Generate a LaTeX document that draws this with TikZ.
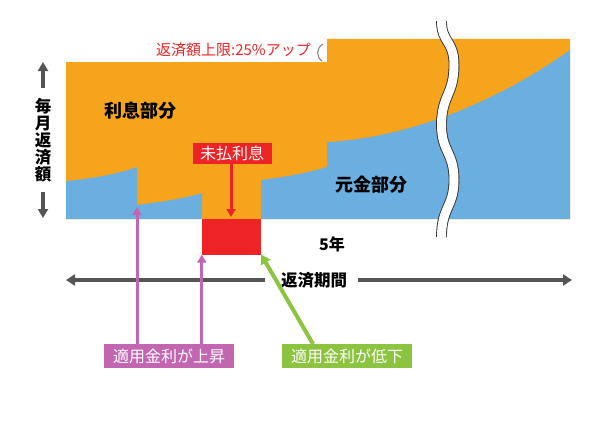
\documentclass[tikz,border=0pt]{standalone}
\usepackage{fontspec}
\newfontfamily\jp{Noto Sans CJK JP}
\usetikzlibrary{arrows.meta}
\definecolor{orng}{HTML}{F7A41D}
\definecolor{blu}{HTML}{6AAFE0}
\definecolor{redc}{HTML}{EE2326}
\definecolor{pnk}{HTML}{C266B2}
\definecolor{grn}{HTML}{8CC43F}
\definecolor{dgray}{HTML}{555555}
\tikzset{
  fs/.style={font=\jp\fontsize{#1}{#1}\selectfont},
  blab/.style={text=black, font=\jp\bfseries\fontsize{#1}{#1}\selectfont, inner sep=0pt},
  tagbox/.style={fill=#1, text=white, font=\jp\fontsize{16}{16}\selectfont, inner sep=0pt, minimum width=130pt, minimum height=24pt},
  garrow/.style={draw=dgray, line width=4pt, -{Triangle[width=11pt,length=9pt]}},
  parrow/.style={draw=pnk, line width=3pt, -{Triangle[width=9pt,length=8pt]}},
}
\begin{document}
\begin{tikzpicture}[x=1pt,y=-1pt]
\useasboundingbox (0,0) rectangle (604,420);
% orange area
\fill[orng] (66,62) -- (327,62) -- (327,39) -- (570,39) -- (570,219) -- (66,219) -- cycle;
% blue areas
\fill[blu] (66,219) -- (66,181) .. controls (95,178) and (118,174) .. (137,167) -- (137,219) -- cycle;
\fill[blu] (137,219) -- (137,205) .. controls (160,202) and (182,199) .. (202,193) -- (202,219) -- cycle;
\fill[blu] (261,219) -- (261,180) .. controls (285,177) and (307,173) .. (327,167) -- (327,219) -- cycle;
\fill[blu] (327,219) -- (327,142) .. controls (410,138) and (500,100) .. (570,50) -- (570,219) -- cycle;
% break wave
\draw[black!80, line width=0.9pt, double=white, double distance=9pt]
  (441.5,21) .. controls (441.5,43) and (454,40) .. (454,65)
  .. controls (454,95) and (441.5,95) .. (441.5,125)
  .. controls (441.5,152) and (454,152) .. (454,180)
  .. controls (454,207) and (441.5,207) .. (441.5,237);
% small paren mark
\draw[gray, line width=1pt] (323,44) .. controls (316,48) and (316,57) .. (322,61);
% texts
\node[blab=18] (interest) at (140,111) {利息部分};
\node[blab=18] (principal) at (371,185) {元金部分};
\node[text=redc, fs=15, inner sep=0pt, anchor=east] (cap) at (311,50) {返済額上限:25\%アップ};
% unpaid interest
\node[fill=redc, text=white, font=\jp\fontsize{16}{16}\selectfont, inner sep=0pt, minimum width=79pt, minimum height=21pt] (unpaid) at (232,153) {未払利息};
\node[fill=redc, inner sep=0pt, minimum width=59pt, minimum height=36pt] (rb) at (231.5,236.5) {};
\coordinate (rbtop) at (231,217);
\draw[redc, line width=3pt, -{Triangle[width=9pt,length=8pt]}] (unpaid.south -| rbtop) -- (rbtop);
% five years
\node[blab=16] (five) at (332,244) {5年};
% vertical axis
\node[blab=16.5, align=center, font=\jp\bfseries\fontsize{16.5}{17}\selectfont] (vlab) at (43,140) {毎\\月\\返\\済\\額};
\coordinate (vtop) at (43,62);
\coordinate (vbot) at (43,218);
\draw[draw=dgray, line width=3.5pt, -{Triangle[width=10pt,length=9pt]}] (43,88) -- (vtop);
\draw[draw=dgray, line width=3.5pt, -{Triangle[width=10pt,length=9pt]}] (43,192) -- (vbot);
% horizontal period arrow
\node[blab=16.5] (period) at (314,280) {返済期間};
\coordinate (hl) at (66,280);
\coordinate (hr) at (572,280);
\draw[garrow] (265,280) -- (hl);
\draw[garrow] (358,280) -- (hr);
% labels
\node[tagbox=pnk] (up) at (169,356) {適用金利が上昇};
\node[tagbox=grn] (down) at (347,356) {適用金利が低下};
\coordinate (t1) at (137,207);
\draw[parrow] (up.north -| t1) -- (t1);
\draw[parrow] (up.north -| rb.south west) -- (rb.south west);
\draw[draw=grn, line width=4pt, -{Triangle[width=11pt,length=9pt]}] (313,344) -- (rb.south east);
\end{tikzpicture}
\end{document}
